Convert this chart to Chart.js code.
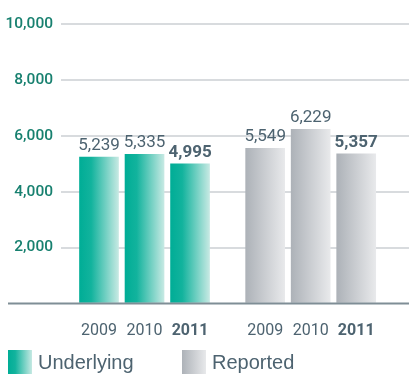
<!DOCTYPE html>
<html>
<head>
<meta charset="utf-8">
<script src="https://cdn.jsdelivr.net/npm/chart.js@4"></script>
<style>
  html, body { margin: 0; padding: 0; background: #fff; }
  #wrap { width: 409px; height: 374px; }
</style>
</head>
<body>
<div id="wrap"><canvas id="chart" width="409" height="374"></canvas></div>
<script>
const years = ["2009", "2010", "2011"];
const underlying = [5239, 5335, 4995];
const reported = [5549, 6229, 5357];
const seriesNames = ["Underlying", "Reported"];
const boldYear = "2011";

const narrow = 'Roboto, "DejaVu Sans Condensed", sans-serif';
const textGray = "#4d6370";
const teal = "#17806f";
const barWidth = 39;
const groupStart = [0, 3.65];

const tealStops = [[0, "#00ad96"], [0.3, "#12b39d"], [1, "#c6e9e3"]];
const grayStops = [[0, "#adb2b8"], [1, "#e8e9eb"]];

function barGradient(stops) {
  return function (context) {
    const chart = context.chart;
    const xScale = chart.scales.x;
    if (!xScale || !context.raw) return stops[0][1];
    const cx = xScale.getPixelForValue(context.raw.x);
    if (!Number.isFinite(cx)) return stops[0][1];
    const g = chart.ctx.createLinearGradient(cx - barWidth / 2, 0, cx + barWidth / 2, 0);
    stops.forEach(s => g.addColorStop(s[0], s[1]));
    return g;
  };
}

const toPoints = (values, g) => values.map((v, i) => ({ x: groupStart[g] + i, y: v }));
const tickPositions = [];
groupStart.forEach(s => years.forEach((y, i) => tickPositions.push(s + i)));

// numbers above the bars, last year in bold
const valueLabels = {
  id: "valueLabels",
  afterDatasetsDraw(chart) {
    const ctx = chart.ctx;
    ctx.save();
    ctx.fillStyle = textGray;
    ctx.textAlign = "center";
    ctx.textBaseline = "alphabetic";
    chart.data.datasets.forEach((ds, d) => {
      chart.getDatasetMeta(d).data.forEach((bar, i) => {
        ctx.font = (years[i] === boldYear ? "bold " : "") + "17px " + narrow;
        ctx.fillText(ds.data[i].y.toLocaleString("en-US"), bar.x, bar.y - 7);
      });
    });
    // baseline running under the labels
    const y0 = chart.scales.y.getPixelForValue(0);
    ctx.strokeStyle = "#7f8e96";
    ctx.lineWidth = 2;
    ctx.beginPath();
    ctx.moveTo(8, y0);
    ctx.lineTo(chart.width, y0);
    ctx.stroke();
    ctx.restore();
  }
};

// legend drawn by hand so the swatches keep their gradient
const swatchLegend = {
  id: "swatchLegend",
  afterDraw(chart) {
    const ctx = chart.ctx;
    const itemX = [8, 182];
    ctx.save();
    chart.data.datasets.forEach((ds, d) => {
      const x = itemX[d];
      const g = ctx.createLinearGradient(x, 0, x + 24, 0);
      (d === 0 ? tealStops : grayStops).forEach(s => g.addColorStop(s[0], s[1]));
      ctx.fillStyle = g;
      ctx.fillRect(x, 350, 24, 24);
      ctx.fillStyle = textGray;
      ctx.font = '20px "Liberation Sans", Arial, sans-serif';
      ctx.textBaseline = "alphabetic";
      ctx.fillText(ds.label, x + 30, 369);
    });
    ctx.restore();
  }
};

const chart = new Chart(document.getElementById("chart").getContext("2d"), {
  type: "bar",
  data: {
    datasets: [
      {
        label: seriesNames[0],
        data: toPoints(underlying, 0),
        backgroundColor: barGradient(tealStops)
      },
      {
        label: seriesNames[1],
        data: toPoints(reported, 1),
        backgroundColor: barGradient(grayStops)
      }
    ]
  },
  options: {
    responsive: false,
    animation: false,
    layout: { padding: { top: 24, left: 0, right: 0, bottom: 0 } },
    datasets: {
      bar: { grouped: false, barThickness: barWidth, borderWidth: 0 }
    },
    plugins: {
      legend: { display: false },
      tooltip: { enabled: false }
    },
    scales: {
      x: {
        type: "linear",
        offset: false,
        min: -0.835,
        max: 6.81,
        grid: { display: false },
        border: { display: false },
        afterBuildTicks: scale => { scale.ticks = tickPositions.map(v => ({ value: v })); },
        afterFit: scale => { scale.height = 70.5; },
        ticks: {
          autoSkip: false,
          maxRotation: 0,
          padding: 10,
          color: textGray,
          font: c => ({ family: narrow, size: 16, weight: years[c.index % years.length] === boldYear ? "bold" : "normal" }),
          callback: (value, index) => years[index % years.length]
        }
      },
      y: {
        min: 0,
        max: 10000,
        afterFit: scale => { scale.width = 61; },
        border: { display: false },
        grid: {
          drawTicks: false,
          lineWidth: 2,
          color: c => c.tick && c.tick.value === 0 ? "rgba(0,0,0,0)" : "#d8dbde"
        },
        ticks: {
          stepSize: 2000,
          padding: 8,
          color: teal,
          font: { family: narrow, size: 15.5, weight: 500 },
          callback: v => v === 0 ? "" : v.toLocaleString("en-US")
        }
      }
    }
  },
  plugins: [valueLabels, swatchLegend]
});
</script>
</body>
</html>
